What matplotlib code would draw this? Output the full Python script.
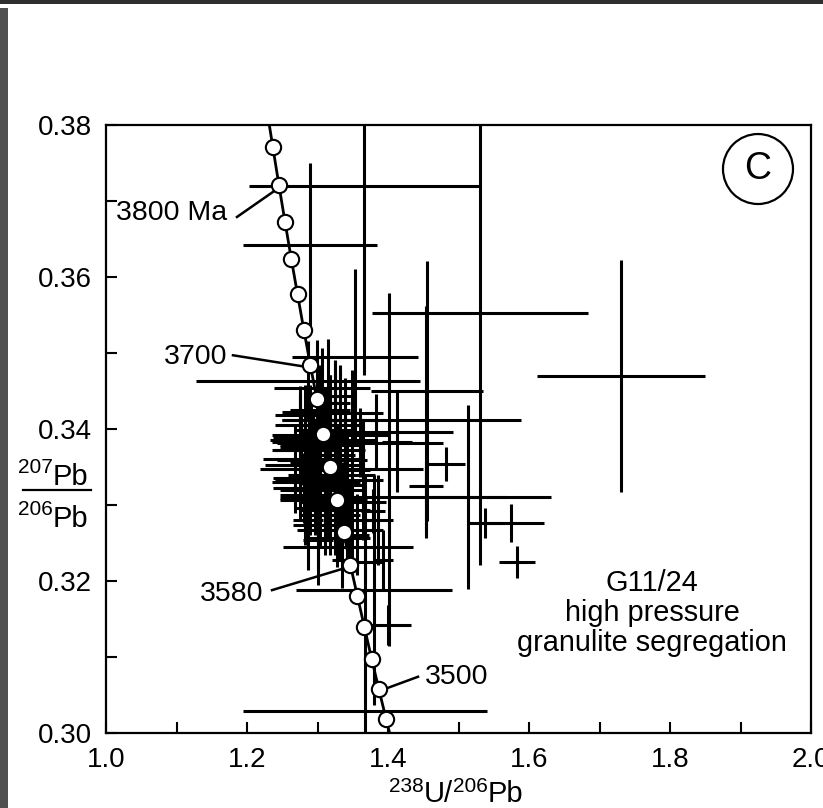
import matplotlib
matplotlib.use('Agg')
import matplotlib.pyplot as plt
from matplotlib.patches import Ellipse, Rectangle
from matplotlib.lines import Line2D
from matplotlib.ticker import MultipleLocator, FormatStrFormatter

plt.rcParams['font.family'] = ['Liberation Sans', 'DejaVu Sans']

W, H = 823, 808

# concordia, 20 Ma steps (first/last only extend the curve past the frame)
conc_age = [3840, 3820, 3800, 3780, 3760, 3740, 3720, 3700, 3680, 3660, 3640,
            3620, 3600, 3580, 3560, 3540, 3520, 3500, 3480, 3460]
conc_x = [1.2281, 1.2366, 1.2453, 1.2540, 1.2628, 1.2717, 1.2807, 1.2899,
          1.2991, 1.3084, 1.3178, 1.3273, 1.3370, 1.3467, 1.3566, 1.3666,
          1.3767, 1.3869, 1.3972, 1.4076]
conc_y = [0.3821, 0.3771, 0.3721, 0.3672, 0.3624, 0.3577, 0.3530, 0.3484,
          0.3439, 0.3394, 0.3350, 0.3306, 0.3264, 0.3221, 0.3180, 0.3139,
          0.3098, 0.3058, 0.3019, 0.2980]

# zircon spots: 238U/206Pb, 207Pb/206Pb and error half-widths
spot_x = [1.366, 1.5305, 1.7305, 1.2894, 1.3532, 1.2865, 1.4553, 1.4823,
          1.5745, 1.5376, 1.5830, 1.5135, 1.4014, 1.3801, 1.3674, 1.4000,
          1.4539, 1.3830, 1.3603, 1.4539, 1.4539, 1.4128,
          1.3064, 1.3390, 1.3177, 1.3177, 1.3177, 1.2879, 1.2908, 1.2894,
          1.2766, 1.2936, 1.2965, 1.2879, 1.2979, 1.2809, 1.2965, 1.3362,
          1.3248, 1.3319, 1.3277, 1.3433, 1.3674, 1.3248, 1.2681, 1.2894,
          1.2865, 1.3106, 1.3149, 1.3319, 1.3489, 1.2993, 1.3248, 1.3645,
          1.3787, 1.3858, 1.3418, 1.2752, 1.3007, 1.3560, 1.2752, 1.3929,
          1.3348,
          1.2752, 1.2823, 1.3035, 1.3319, 1.2752, 1.3035, 1.3390, 1.2681,
          1.3106, 1.3390, 1.2752, 1.3106, 1.2823, 1.3177, 1.3461, 1.3007,
          1.3248, 1.2922, 1.3177, 1.3007, 1.3291, 1.2865,
          1.2894, 1.3106, 1.2823, 1.3248, 1.2894, 1.3177, 1.3035, 1.3390]
spot_y = [0.3720, 0.3553, 0.3470, 0.3642, 0.3495, 0.3463, 0.3450, 0.3354,
          0.3276, 0.3276, 0.3225, 0.3311, 0.3347, 0.3188, 0.3029, 0.3142,
          0.3412, 0.3396, 0.3382, 0.3325, 0.3311, 0.3383,
          0.3454, 0.3421, 0.3412, 0.3405, 0.3392, 0.3388, 0.3383, 0.3376,
          0.3372, 0.3361, 0.3347, 0.3336, 0.3330, 0.3322, 0.3320, 0.3304,
          0.3293, 0.3267, 0.3257, 0.3245, 0.3225, 0.3434, 0.3309, 0.3357,
          0.3280, 0.3300, 0.3386, 0.3372, 0.3346, 0.3399, 0.3366, 0.3333,
          0.3292, 0.3280, 0.3307, 0.3359, 0.3254, 0.3261, 0.3422, 0.3228,
          0.3228,
          0.3418, 0.3405, 0.3425, 0.3412, 0.3386, 0.3379, 0.3386, 0.3353,
          0.3353, 0.3339, 0.3333, 0.3320, 0.3307, 0.3287, 0.3280, 0.3274,
          0.3443, 0.3359, 0.3359, 0.3339, 0.3326, 0.3320,
          0.3412, 0.3399, 0.3372, 0.3346, 0.3313, 0.3307, 0.3296, 0.3359]
spot_xerr = [0.163, 0.153, 0.119, 0.095, 0.089, 0.159, 0.079, 0.027,
             0.047, 0.024, 0.026, 0.057, 0.048, 0.111, 0.173, 0.033,
             0.135, 0.109, 0.118, 0.024, 0.177, 0.021,
             0.068, 0.054, 0.068, 0.043, 0.082, 0.051, 0.055, 0.043,
             0.041, 0.071, 0.078, 0.051, 0.062, 0.044, 0.050, 0.061,
             0.050, 0.061, 0.047, 0.092, 0.026, 0.021, 0.021, 0.028,
             0.021, 0.028, 0.028, 0.035, 0.026, 0.028, 0.028, 0.028,
             0.017, 0.021, 0.028, 0.028, 0.021, 0.017, 0.026, 0.014,
             0.014,
             0.035, 0.043, 0.043, 0.035, 0.043, 0.057, 0.043, 0.043,
             0.050, 0.043, 0.035, 0.057, 0.035, 0.043, 0.035, 0.035,
             0.028, 0.050, 0.035, 0.043, 0.035, 0.028,
             0.040, 0.043, 0.043, 0.040, 0.043, 0.035, 0.035, 0.031]
spot_yerr = [0.0249, 0.0332, 0.0153, 0.0108, 0.0116, 0.0053, 0.0171, 0.0022,
             0.0025, 0.0020, 0.0021, 0.0121, 0.0232, 0.0151, 0.0309, 0.0026,
             0.0150, 0.0050, 0.0045, 0.0025, 0.0054, 0.0066,
             0.0053, 0.0046, 0.0059, 0.0066, 0.0072, 0.0053, 0.0059, 0.0066,
             0.0046, 0.0059, 0.0066, 0.0059, 0.0053, 0.0046, 0.0059, 0.0053,
             0.0059, 0.0039, 0.0039, 0.0033, 0.0026, 0.0039, 0.0020, 0.0072,
             0.0066, 0.0066, 0.0132, 0.0112, 0.0132, 0.0118, 0.0125, 0.0079,
             0.0029, 0.0059, 0.0092, 0.0053, 0.0059, 0.0053, 0.0026, 0.0039,
             0.0037,
             0.0039, 0.0053, 0.0059, 0.0066, 0.0059, 0.0072, 0.0066, 0.0053,
             0.0079, 0.0072, 0.0053, 0.0072, 0.0059, 0.0053, 0.0053, 0.0059,
             0.0046, 0.0046, 0.0092, 0.0086, 0.0079, 0.0066,
             0.0046, 0.0053, 0.0046, 0.0059, 0.0053, 0.0059, 0.0053, 0.0053]


def chain_text(fig, cx, base, parts):
    # lay out (text, size, rise) pieces left to right, centred on cx (pixels)
    r = fig.canvas.get_renderer()
    widths = []
    for s, size, rise in parts:
        t = fig.text(0, 0, s, fontsize=size)
        widths.append(t.get_window_extent(r).width)
        t.remove()
    x = cx - sum(widths) / 2
    for (s, size, rise), w in zip(parts, widths):
        fig.text(x / W, (base + rise) / H, s, fontsize=size, ha='left',
                 va='baseline')
        x += w


fig = plt.figure(figsize=(W / 100, H / 100), dpi=100)
fig.add_artist(Rectangle((0, 0), 8 / W, 1 - 8 / H, transform=fig.transFigure,
                         color='#505050', lw=0))
fig.add_artist(Rectangle((0, 1 - 4 / H), 1, 4 / H, transform=fig.transFigure,
                         color='#2e2e2e', lw=0))

ax = fig.add_axes([106 / W, 75 / H, 705 / W, 608 / H])

ax.errorbar(spot_x, spot_y, xerr=spot_xerr, yerr=spot_yerr, fmt='none',
            ecolor='black', elinewidth=2.2, capsize=0, zorder=2)

ax.plot(conc_x, conc_y, '-', color='black', lw=2.0, zorder=3)
ax.plot(conc_x[1:-1], conc_y[1:-1], 'o', ms=11, mfc='white', mec='black',
        mew=1.5, zorder=4)

# age labels with leader lines
ax.plot([1.1858, 1.2369], [0.3679, 0.3712], color='black', lw=1.8, zorder=3)
ax.text(1.1716, 0.3684, '3800 Ma', ha='right', va='center', fontsize=20.5)
ax.plot([1.1801, 1.2823], [0.3497, 0.3482], color='black', lw=1.8, zorder=3)
ax.text(1.1716, 0.3495, '3700', ha='right', va='center', fontsize=20.5)
ax.plot([1.2355, 1.3390], [0.3188, 0.3217], color='black', lw=1.8, zorder=3)
ax.text(1.2227, 0.3183, '3580', ha='right', va='center', fontsize=20.5)
ax.plot([1.4426, 1.3986], [0.3074, 0.3059], color='black', lw=1.8, zorder=3)
ax.text(1.4525, 0.3074, '3500', ha='left', va='center', fontsize=20.5)

ax.text(1.7745, 0.3158, 'G11/24\nhigh pressure\ngranulite segregation',
        ha='center', va='center', fontsize=20.8, linespacing=1.1)

ax.add_patch(Ellipse((0.9248, 0.9276), 0.0993, 0.1151, transform=ax.transAxes,
                     fill=False, lw=1.6, color='black'))
ax.text(0.9248, 0.9276, 'C', transform=ax.transAxes, ha='center', va='center',
        fontsize=27)

ax.set_xlim(1.0, 2.0)
ax.set_ylim(0.30, 0.38)
ax.xaxis.set_major_locator(MultipleLocator(0.2))
ax.xaxis.set_minor_locator(MultipleLocator(0.1))
ax.yaxis.set_major_locator(MultipleLocator(0.02))
ax.yaxis.set_minor_locator(MultipleLocator(0.01))
ax.xaxis.set_major_formatter(FormatStrFormatter('%.1f'))
ax.yaxis.set_major_formatter(FormatStrFormatter('%.2f'))
ax.tick_params(which='both', direction='in', length=8, width=1.5,
               top=False, right=False, labelsize=20)
ax.tick_params(axis='x', pad=10)
ax.tick_params(axis='y', pad=10)
for s in ax.spines.values():
    s.set_linewidth(1.6)

chain_text(fig, 456, 6, [('238', 15, 10), ('U/', 21, 0), ('206', 15, 10),
                         ('Pb', 21, 0)])
chain_text(fig, 53, H - 485, [('207', 15, 12), ('Pb', 21, 0)])
chain_text(fig, 53, H - 527, [('206', 15, 12), ('Pb', 21, 0)])
fig.add_artist(Line2D([23 / W, 91 / W], [1 - 490 / H, 1 - 490 / H],
                      transform=fig.transFigure, color='black', lw=1.6))

fig.savefig('out.png', dpi=100)
